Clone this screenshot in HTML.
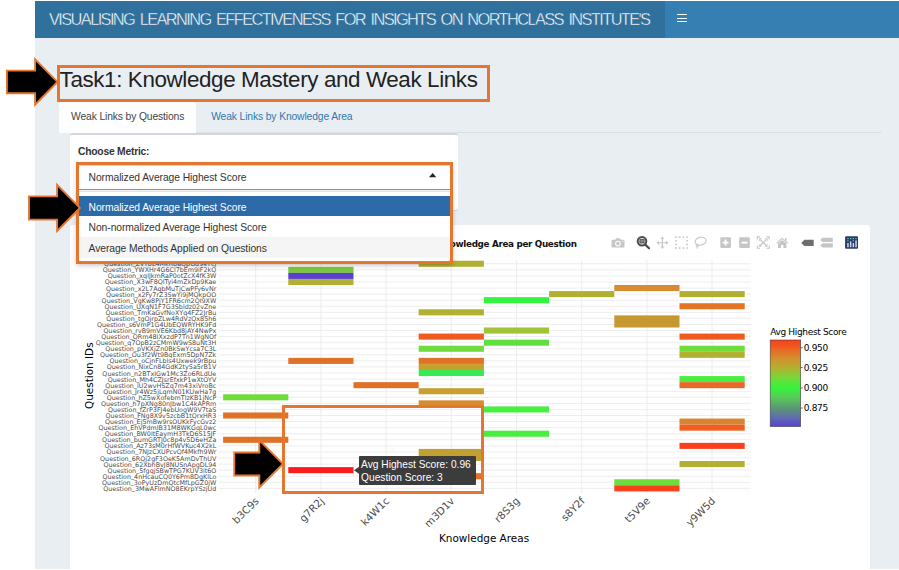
<!DOCTYPE html>
<html lang="en"><head><meta charset="utf-8"><title>Task1: Knowledge Mastery and Weak Links</title>
<style>
html,body{margin:0;padding:0;background:#fff;}
body{width:899px;height:570px;overflow:hidden;position:relative;font-family:"Liberation Sans",sans-serif;color:#333;}
.abs{position:absolute;}
#app{left:35px;top:1px;width:864px;height:567.7px;background:#e9eef3;}
#logo{left:35px;top:1px;width:630px;height:37px;background:#30709c;}
#nav{left:665px;top:1px;width:234px;height:37px;background:#367fb2;}
#logotxt{left:49px;top:0.5px;height:37px;line-height:37px;color:#fff;font-size:16.4px;white-space:nowrap;letter-spacing:-1.61px;word-spacing:2.5px;-webkit-text-stroke:0.4px #30709c}
.hb{left:677px;width:10.2px;height:1.45px;background:#fff;border-radius:1px}
#h1{left:59.6px;top:61.8px;font-size:22.4px;line-height:36px;color:#222;white-space:nowrap;letter-spacing:-0.38px}
.obox{border:3px solid #e5762f;box-sizing:border-box}
#tabline{left:58px;top:132px;width:824px;height:1px;background:#dcdfe3}
#tab1{left:59px;top:102px;width:137.3px;height:30.5px;background:#fff;border-radius:3px 3px 0 0}
.tabt{font-size:10.3px;line-height:14px;white-space:nowrap;letter-spacing:-0.12px}
#box1{left:70px;top:133.4px;width:388.2px;height:76.2px;background:#fff;border-top:2px solid #d2d6de;border-radius:3px;box-sizing:border-box;box-shadow:0 1px 1px rgba(0,0,0,.1)}
#box2{left:70px;top:224.9px;width:800.2px;height:360px;background:#fff;border-radius:3px;box-sizing:border-box;box-shadow:0 1px 1px rgba(0,0,0,.1)}
#lbl{left:78px;top:145.1px;font-size:10.3px;letter-spacing:-0.22px;font-weight:bold;color:#333;white-space:nowrap;line-height:14px}
#sel{left:78px;top:165px;width:373px;height:25.2px;background:#fff;border:1px solid #d2d6de;border-bottom:1.5px solid #5a9fd4;box-sizing:border-box;border-radius:3px 3px 0 0}
#dd{left:78px;top:191.2px;width:373px;height:70.4px;background:#fff;border:1px solid #e2e2e2;box-sizing:border-box;box-shadow:0 1px 4px rgba(0,0,0,.18);border-radius:0 0 3px 3px}
.opt{left:78.5px;width:372px;height:20.5px}
.ot{left:88.6px;font-size:10.3px;letter-spacing:-0.07px;line-height:14px;color:#333;white-space:nowrap}
svg.plot{position:absolute;left:0;top:0}
svg text{font-family:"DejaVu Sans","Liberation Sans",sans-serif}
.yt text{font-size:6.38px;fill:#4d4d4d}
.xt text{font-size:10.35px;fill:#4d4d4d}
.axt{font-size:10.45px;fill:#000}
.ptitle{font-size:8.8px;letter-spacing:-0.33px;font-weight:bold;fill:#111}
.lgt{font-size:9px;letter-spacing:-0.34px;fill:#000}
.lgk{font-size:9px;letter-spacing:-0.31px;fill:#000}
#tip{left:358.8px;top:455.6px;width:117.2px;height:29px;background:#3c3c3c;color:#fff;font-size:10.2px;line-height:12.9px;box-sizing:border-box;padding:3.6px 0 0 2.3px;white-space:nowrap;border-radius:1px}
</style></head><body>
<div id="app" class="abs"></div>
<div id="logo" class="abs"></div><div id="nav" class="abs"></div>
<div id="logotxt" class="abs">VISUALISING LEARNING EFFECTIVENESS FOR INSIGHTS ON NORTHCLASS INSTITUTE'S</div>
<div class="abs hb" style="top:14px"></div><div class="abs hb" style="top:17.5px"></div><div class="abs hb" style="top:21.05px"></div>

<div id="h1" class="abs">Task1: Knowledge Mastery and Weak Links</div>
<div class="abs obox" style="left:57px;top:65px;width:433px;height:36.7px"></div>

<div id="tabline" class="abs"></div>
<div id="tab1" class="abs"></div>
<div class="abs tabt" style="left:71px;top:110.1px;color:#444">Weak Links by Questions</div>
<div class="abs tabt" style="left:211.2px;top:110.1px;color:#3079ad">Weak Links by Knowledge Area</div>

<div id="box1" class="abs"></div>
<div id="box2" class="abs"></div>
<svg class="plot" width="899" height="570" viewBox="0 0 899 570">
<g stroke="#ebebeb" stroke-width="0.9" shape-rendering="auto"><line x1="218.5" x2="751.0" y1="263.77" y2="263.77"/><line x1="218.5" x2="751.0" y1="269.84" y2="269.84"/><line x1="218.5" x2="751.0" y1="275.91" y2="275.91"/><line x1="218.5" x2="751.0" y1="281.98" y2="281.98"/><line x1="218.5" x2="751.0" y1="288.05" y2="288.05"/><line x1="218.5" x2="751.0" y1="294.12" y2="294.12"/><line x1="218.5" x2="751.0" y1="300.19" y2="300.19"/><line x1="218.5" x2="751.0" y1="306.25" y2="306.25"/><line x1="218.5" x2="751.0" y1="312.33" y2="312.33"/><line x1="218.5" x2="751.0" y1="318.40" y2="318.40"/><line x1="218.5" x2="751.0" y1="324.47" y2="324.47"/><line x1="218.5" x2="751.0" y1="330.54" y2="330.54"/><line x1="218.5" x2="751.0" y1="336.61" y2="336.61"/><line x1="218.5" x2="751.0" y1="342.68" y2="342.68"/><line x1="218.5" x2="751.0" y1="348.75" y2="348.75"/><line x1="218.5" x2="751.0" y1="354.82" y2="354.82"/><line x1="218.5" x2="751.0" y1="360.88" y2="360.88"/><line x1="218.5" x2="751.0" y1="366.96" y2="366.96"/><line x1="218.5" x2="751.0" y1="373.03" y2="373.03"/><line x1="218.5" x2="751.0" y1="379.10" y2="379.10"/><line x1="218.5" x2="751.0" y1="385.17" y2="385.17"/><line x1="218.5" x2="751.0" y1="391.24" y2="391.24"/><line x1="218.5" x2="751.0" y1="397.31" y2="397.31"/><line x1="218.5" x2="751.0" y1="403.38" y2="403.38"/><line x1="218.5" x2="751.0" y1="409.45" y2="409.45"/><line x1="218.5" x2="751.0" y1="415.51" y2="415.51"/><line x1="218.5" x2="751.0" y1="421.59" y2="421.59"/><line x1="218.5" x2="751.0" y1="427.66" y2="427.66"/><line x1="218.5" x2="751.0" y1="433.73" y2="433.73"/><line x1="218.5" x2="751.0" y1="439.80" y2="439.80"/><line x1="218.5" x2="751.0" y1="445.87" y2="445.87"/><line x1="218.5" x2="751.0" y1="451.94" y2="451.94"/><line x1="218.5" x2="751.0" y1="458.00" y2="458.00"/><line x1="218.5" x2="751.0" y1="464.08" y2="464.08"/><line x1="218.5" x2="751.0" y1="470.15" y2="470.15"/><line x1="218.5" x2="751.0" y1="476.22" y2="476.22"/><line x1="218.5" x2="751.0" y1="482.29" y2="482.29"/><line x1="218.5" x2="751.0" y1="488.36" y2="488.36"/><line x1="255.70" x2="255.70" y1="259.8" y2="493.0"/><line x1="320.90" x2="320.90" y1="259.8" y2="493.0"/><line x1="386.10" x2="386.10" y1="259.8" y2="493.0"/><line x1="451.30" x2="451.30" y1="259.8" y2="493.0"/><line x1="516.50" x2="516.50" y1="259.8" y2="493.0"/><line x1="581.70" x2="581.70" y1="259.8" y2="493.0"/><line x1="646.90" x2="646.90" y1="259.8" y2="493.0"/><line x1="712.10" x2="712.10" y1="259.8" y2="493.0"/></g>
<g><rect x="223.10" y="394.27" width="65.20" height="6.07" fill="#6fdc3c"/><rect x="223.10" y="412.48" width="65.20" height="6.07" fill="#e07228"/><rect x="223.10" y="436.76" width="65.20" height="6.07" fill="#e07228"/><rect x="288.30" y="266.80" width="65.20" height="6.07" fill="#7cc83c"/><rect x="288.30" y="272.87" width="65.20" height="6.07" fill="#5a3fd0"/><rect x="288.30" y="278.94" width="65.20" height="6.07" fill="#b2b030"/><rect x="288.30" y="357.85" width="65.20" height="6.07" fill="#e07228"/><rect x="288.30" y="467.11" width="65.20" height="6.07" fill="#fd1c1c"/><rect x="353.50" y="382.13" width="65.20" height="6.07" fill="#e07228"/><rect x="418.70" y="260.73" width="65.20" height="6.07" fill="#b2b030"/><rect x="418.70" y="309.29" width="65.20" height="6.07" fill="#b2b030"/><rect x="418.70" y="333.57" width="65.20" height="6.07" fill="#ef5a1f"/><rect x="418.70" y="345.71" width="65.20" height="6.07" fill="#6fdc3c"/><rect x="418.70" y="357.85" width="65.20" height="6.07" fill="#e07228"/><rect x="418.70" y="363.92" width="65.20" height="6.07" fill="#c8a030"/><rect x="418.70" y="369.99" width="65.20" height="6.07" fill="#38e854"/><rect x="418.70" y="388.20" width="65.20" height="6.07" fill="#c8a030"/><rect x="418.70" y="400.34" width="65.20" height="6.07" fill="#d88c30"/><rect x="418.70" y="448.90" width="65.20" height="12.14" fill="#c0a030"/><rect x="418.70" y="473.18" width="65.20" height="6.07" fill="#ee6a25"/><rect x="483.90" y="297.15" width="65.20" height="6.07" fill="#34f33f"/><rect x="483.90" y="327.50" width="65.20" height="6.07" fill="#a0c435"/><rect x="483.90" y="339.64" width="65.20" height="6.07" fill="#60e040"/><rect x="483.90" y="406.41" width="65.20" height="6.07" fill="#48ee40"/><rect x="483.90" y="430.69" width="65.20" height="6.07" fill="#48ee40"/><rect x="549.10" y="291.08" width="65.20" height="6.07" fill="#b2b030"/><rect x="614.30" y="285.01" width="65.20" height="6.07" fill="#d88a30"/><rect x="614.30" y="315.36" width="65.20" height="12.14" fill="#c89830"/><rect x="614.30" y="479.25" width="65.20" height="6.07" fill="#6fdc3c"/><rect x="614.30" y="485.32" width="65.20" height="6.07" fill="#f8401c"/><rect x="679.50" y="291.08" width="65.20" height="6.07" fill="#b2b030"/><rect x="679.50" y="303.22" width="65.20" height="6.07" fill="#e47426"/><rect x="679.50" y="333.57" width="65.20" height="6.07" fill="#ef5a1f"/><rect x="679.50" y="345.71" width="65.20" height="6.07" fill="#6fdc3c"/><rect x="679.50" y="351.78" width="65.20" height="6.07" fill="#b2b030"/><rect x="679.50" y="376.06" width="65.20" height="6.07" fill="#48ee40"/><rect x="679.50" y="382.13" width="65.20" height="6.07" fill="#e8682a"/><rect x="679.50" y="418.55" width="65.20" height="6.07" fill="#d88430"/><rect x="679.50" y="424.62" width="65.20" height="6.07" fill="#ee6022"/><rect x="679.50" y="442.83" width="65.20" height="6.07" fill="#f8401c"/><rect x="679.50" y="461.04" width="65.20" height="6.07" fill="#b2b030"/></g>
<g class="yt" text-anchor="end"><text x="216.3" y="266.27">Question<tspan dy="-1">_</tspan><tspan dy="1">ZvTbL4MkR8aQpGd9eYcj</tspan></text><text x="216.3" y="272.34">Question<tspan dy="-1">_</tspan><tspan dy="1">YWXHr4G6Cl7bEm9iF2kQ</tspan></text><text x="216.3" y="278.41">Question<tspan dy="-1">_</tspan><tspan dy="1">xqlJkmRaP0otZcX4fK3W</tspan></text><text x="216.3" y="284.48">Question<tspan dy="-1">_</tspan><tspan dy="1">X3wF8QlTyi4mZkDp9Kae</tspan></text><text x="216.3" y="290.55">Question<tspan dy="-1">_</tspan><tspan dy="1">x2L7AqbMuTjCwPFy6vNr</tspan></text><text x="216.3" y="296.62">Question<tspan dy="-1">_</tspan><tspan dy="1">x2Fy7rZ3SwYi9jMQkpOO</tspan></text><text x="216.3" y="302.69">Question<tspan dy="-1">_</tspan><tspan dy="1">VgKw8PjY1FR6cm2QI9XW</tspan></text><text x="216.3" y="308.75">Question<tspan dy="-1">_</tspan><tspan dy="1">UXqN1F7G3Sbldz02vZne</tspan></text><text x="216.3" y="314.83">Question<tspan dy="-1">_</tspan><tspan dy="1">TmKaGvfNoXYq4FZ2JrBu</tspan></text><text x="216.3" y="320.90">Question<tspan dy="-1">_</tspan><tspan dy="1">tgOjrpZLw4RdVzQx85h6</tspan></text><text x="216.3" y="326.97">Question<tspan dy="-1">_</tspan><tspan dy="1">s6VmP1G4UbEQWRYHK9Fd</tspan></text><text x="216.3" y="333.04">Question<tspan dy="-1">_</tspan><tspan dy="1">rvB9mVE6Kbd8jAY4NwPx</tspan></text><text x="216.3" y="339.11">Question<tspan dy="-1">_</tspan><tspan dy="1">QRm48IXxzdP7Tn1WgNOf</tspan></text><text x="216.3" y="345.18">Question<tspan dy="-1">_</tspan><tspan dy="1">q7OpB2zCMmW9wS8uNt3H</tspan></text><text x="216.3" y="351.25">Question<tspan dy="-1">_</tspan><tspan dy="1">pVKXjZn0BkSwYcsa7C3L</tspan></text><text x="216.3" y="357.32">Question<tspan dy="-1">_</tspan><tspan dy="1">Ou3f2Wt9BqExm5DpN7Zk</tspan></text><text x="216.3" y="363.38">Question<tspan dy="-1">_</tspan><tspan dy="1">oCjnFLbIs4Uxwek9rBpu</tspan></text><text x="216.3" y="369.46">Question<tspan dy="-1">_</tspan><tspan dy="1">NixCn84GdK2tySa5rB1V</tspan></text><text x="216.3" y="375.53">Question<tspan dy="-1">_</tspan><tspan dy="1">n2BTxIGw1Mc3Zo6RLdUe</tspan></text><text x="216.3" y="381.60">Question<tspan dy="-1">_</tspan><tspan dy="1">Mh4CZJsrEfxkP1wXtOYV</tspan></text><text x="216.3" y="387.67">Question<tspan dy="-1">_</tspan><tspan dy="1">lU2wvHSZq7m43xiVroBc</tspan></text><text x="216.3" y="393.74">Question<tspan dy="-1">_</tspan><tspan dy="1">Jr4Wz5jLqmN01KUwHa7g</tspan></text><text x="216.3" y="399.81">Question<tspan dy="-1">_</tspan><tspan dy="1">hZ5wXofebmTlzKB1jNcP</tspan></text><text x="216.3" y="405.88">Question<tspan dy="-1">_</tspan><tspan dy="1">h7pXNg80nJbw1C4kAPRm</tspan></text><text x="216.3" y="411.95">Question<tspan dy="-1">_</tspan><tspan dy="1">fZrP3FJ4ebUogW9V7taS</tspan></text><text x="216.3" y="418.01">Question<tspan dy="-1">_</tspan><tspan dy="1">FNg8X9v5zcbB1tQrxHR3</tspan></text><text x="216.3" y="424.09">Question<tspan dy="-1">_</tspan><tspan dy="1">Ej5mBw9rsOUKkFycGvz2</tspan></text><text x="216.3" y="430.16">Question<tspan dy="-1">_</tspan><tspan dy="1">EhVPdmlB31M8WKGqL0wc</tspan></text><text x="216.3" y="436.23">Question<tspan dy="-1">_</tspan><tspan dy="1">BW0ItEaymH3TkD6S15JF</tspan></text><text x="216.3" y="442.30">Question<tspan dy="-1">_</tspan><tspan dy="1">bumGRTJ0c8p4v5D6eHZa</tspan></text><text x="216.3" y="448.37">Question<tspan dy="-1">_</tspan><tspan dy="1">Az73sM0rHfWVKuc4X2kL</tspan></text><text x="216.3" y="454.44">Question<tspan dy="-1">_</tspan><tspan dy="1">7NJzCXUPcvQf4Mkfh9Wr</tspan></text><text x="216.3" y="460.50">Question<tspan dy="-1">_</tspan><tspan dy="1">6RQj2gF3OeK5AmDvThUV</tspan></text><text x="216.3" y="466.58">Question<tspan dy="-1">_</tspan><tspan dy="1">62XbhBvJ8NUSnApgDL94</tspan></text><text x="216.3" y="472.65">Question<tspan dy="-1">_</tspan><tspan dy="1">5fgqjSBwTPG7KUV3it6O</tspan></text><text x="216.3" y="478.72">Question<tspan dy="-1">_</tspan><tspan dy="1">4nHcauCQ0Y6Pm8DgKlLo</tspan></text><text x="216.3" y="484.79">Question<tspan dy="-1">_</tspan><tspan dy="1">3oPyUzDmQtcMfLpGZ0jW</tspan></text><text x="216.3" y="490.86">Question<tspan dy="-1">_</tspan><tspan dy="1">3MwAFlmNO8EKrpYSzjUd</tspan></text></g>
<g class="xt"><text transform="translate(259.60,501.6) rotate(-45)" text-anchor="end">b3C9s</text><text transform="translate(324.80,501.6) rotate(-45)" text-anchor="end">g7R2j</text><text transform="translate(390.00,501.6) rotate(-45)" text-anchor="end">k4W1c</text><text transform="translate(455.20,501.6) rotate(-45)" text-anchor="end">m3D1v</text><text transform="translate(520.40,501.6) rotate(-45)" text-anchor="end">r8S3g</text><text transform="translate(585.60,501.6) rotate(-45)" text-anchor="end">s8Y2f</text><text transform="translate(650.80,501.6) rotate(-45)" text-anchor="end">t5V9e</text><text transform="translate(716.00,501.6) rotate(-45)" text-anchor="end">y9W5d</text></g>
<text class="axt" x="484" y="542.3" text-anchor="middle">Knowledge Areas</text>
<text class="axt" transform="translate(92.8,375.7) rotate(-90)" text-anchor="middle">Question IDs</text>
<text class="ptitle" x="576.6" y="246.5" text-anchor="end">Average Highest Score by Knowledge Area per Question</text>
<defs><linearGradient id="cb" x1="0" y1="0" x2="0" y2="1">
<stop offset="0" stop-color="#f8401c"/><stop offset="0.09" stop-color="#ee5f22"/><stop offset="0.2" stop-color="#d88a2c"/>
<stop offset="0.32" stop-color="#b4b030"/><stop offset="0.44" stop-color="#74da3a"/><stop offset="0.555" stop-color="#33f53c"/>
<stop offset="0.66" stop-color="#58cc58"/><stop offset="0.78" stop-color="#5a9a70"/><stop offset="0.9" stop-color="#606cb0"/><stop offset="1" stop-color="#5b3fd3"/>
</linearGradient></defs>
<rect x="770.2" y="340" width="30.5" height="86.5" fill="url(#cb)" stroke="#444" stroke-width="0.6"/>
<text class="lgt" x="770.2" y="334.6">Avg Highest Score</text>
<line x1="800.7" x2="802.7" y1="347.8" y2="347.8" stroke="#444" stroke-width="0.8"/>
<text class="lgk" x="803.7" y="351.2">0.950</text>
<line x1="800.7" x2="802.7" y1="367.6" y2="367.6" stroke="#444" stroke-width="0.8"/>
<text class="lgk" x="803.7" y="371.0">0.925</text>
<line x1="800.7" x2="802.7" y1="388" y2="388" stroke="#444" stroke-width="0.8"/>
<text class="lgk" x="803.7" y="391.4">0.900</text>
<line x1="800.7" x2="802.7" y1="408" y2="408" stroke="#444" stroke-width="0.8"/>
<text class="lgk" x="803.7" y="411.4">0.875</text>
<g class="modebar"><g fill="#c6c6c6"><rect x="611.5" y="239.8" width="13" height="7.8" rx="1.3"/><path d="M615.2 240 L616.2 238.3 H619.8 L620.8 240 Z"/><circle cx="618" cy="243.6" r="2.9" fill="#fff"/><circle cx="618" cy="243.6" r="1.8"/><rect x="622" y="240.8" width="1.4" height="1" fill="#fff"/></g><g><circle cx="642" cy="241.2" r="4.3" fill="#fff" stroke="#4a4a4a" stroke-width="2"/><rect x="639.9" y="239.3" width="4.2" height="3.7" fill="#8a8a8a" stroke="#4a4a4a" stroke-width="0.9"/><path d="M645 244.4 L649 248.2" stroke="#4a4a4a" stroke-width="2.2" stroke-linecap="round"/></g><g stroke="#c6c6c6" stroke-width="1.2" fill="#c6c6c6"><path d="M662.4 238.5 V247 M658.2 242.75 H666.8" fill="none"/><path d="M662.4 236.6 L664.3 239.1 H660.5 Z M662.4 248.9 L664.3 246.4 H660.5 Z M656.4 242.75 L658.9 240.85 V244.65 Z M668.5 242.75 L666 240.85 V244.65 Z" stroke="none"/></g><g fill="#c6c6c6"><rect x="675.20" y="236.40" width="1.6" height="1.6"/><rect x="675.20" y="240.00" width="1.6" height="1.6"/><rect x="675.20" y="243.60" width="1.6" height="1.6"/><rect x="675.20" y="247.20" width="1.6" height="1.6"/><rect x="678.90" y="236.40" width="1.6" height="1.6"/><rect x="678.90" y="247.20" width="1.6" height="1.6"/><rect x="682.60" y="236.40" width="1.6" height="1.6"/><rect x="682.60" y="247.20" width="1.6" height="1.6"/><rect x="686.30" y="236.40" width="1.6" height="1.6"/><rect x="686.30" y="240.00" width="1.6" height="1.6"/><rect x="686.30" y="243.60" width="1.6" height="1.6"/><rect x="686.30" y="247.20" width="1.6" height="1.6"/></g><g fill="none" stroke="#c6c6c6" stroke-width="1.1"><ellipse cx="700.6" cy="241.2" rx="5.6" ry="3.9" transform="rotate(-12 700.6 241.2)"/><path d="M697.6 244.2 C695.6 244.4 695.8 246.6 697.4 246.4 C698.6 246.2 698.4 244.8 697.6 244.6 M697.4 246.4 L697 248.6"/></g><g><rect x="720.3" y="237.3" width="10.6" height="10.6" rx="0.8" fill="#c6c6c6"/><path d="M725.6 239.6 V245.6 M722.6 242.6 H728.6" stroke="#fff" stroke-width="1.8"/></g><g><rect x="739.2" y="237.3" width="10.6" height="10.6" rx="0.8" fill="#c6c6c6"/><path d="M741.5 242.6 H747.5" stroke="#fff" stroke-width="1.8"/></g><g fill="none" stroke="#c6c6c6" stroke-width="1.1"><path d="M757.3 239.6 V236.9 H760 M766.5 236.9 H769.2 V239.6 M769.2 245.6 V248.3 H766.5 M760 248.3 H757.3 V245.6"/><path d="M760 239.4 L766.5 245.8 M766.5 239.4 L760 245.8" stroke-width="1.3"/><path d="M759.3 241 V238.7 H761.6 M764.9 238.7 H767.2 V241 M767.2 244.2 V246.5 H764.9 M761.6 246.5 H759.3 V244.2" stroke-width="0.9"/></g><g fill="#c6c6c6"><path d="M782.2 237.4 L788.2 242.9 L787.4 243.8 L782.2 239.1 L777 243.8 L776.2 242.9 Z"/><path d="M778 243.6 L782.2 239.9 L786.4 243.6 V248 H783.4 V245 H781 V248 H778 Z"/><rect x="785" y="238" width="1.5" height="2.6"/></g><path d="M801.2 242.9 L804.4 239.7 H813.7 V246.1 H804.4 Z" fill="#6e6e6e"/><g fill="#c6c6c6"><path d="M820.2 240 L822.5 237.8 H832.8 V242.1 H822.5 Z"/><path d="M820.2 245.5 L822.5 243.3 H832.8 V247.6 H822.5 Z"/></g><g><rect x="845.1" y="236.2" width="12.9" height="12.5" rx="1" fill="#2b3a67"/><g fill="#c9d3ee"><rect x="847.2" y="243" width="1.5" height="4.2"/><rect x="849.9" y="241.4" width="1.5" height="5.8"/><rect x="852.6" y="243" width="1.5" height="4.2"/><rect x="855.3" y="240.4" width="1.5" height="6.8"/></g><g fill="#5fb8b4"><rect x="847.2" y="238" width="1.4" height="1.2"/><rect x="849.9" y="238" width="1.4" height="1.2"/><rect x="852.6" y="238" width="1.4" height="1.2"/><rect x="855.3" y="238" width="1.4" height="1.2"/><rect x="847.2" y="240.2" width="1.4" height="1.1"/><rect x="852.6" y="240.2" width="1.4" height="1.1"/></g></g></g>
</svg>
<!--MODEBAR-->
<!--ANNOT_RECT-->
<div id="tip" class="abs">Avg Highest Score: 0.96<br>Question Score: 3</div>
<svg class="abs" style="left:352px;top:464px" width="8" height="12" viewBox="0 0 8 12"><path d="M7.5 2.4 L2 6.3 L7.5 10.2 Z" fill="#3c3c3c"/></svg>
<div class="abs obox" style="left:281.5px;top:404.7px;width:202.6px;height:89.2px"></div>

<div id="lbl" class="abs">Choose Metric:</div>
<div id="sel" class="abs"></div>
<div class="abs ot" style="top:170.7px">Normalized Average Highest Score</div>
<svg class="abs" style="left:428.8px;top:172.9px" width="8" height="5" viewBox="0 0 8 5"><path d="M0 4.3 L3.65 0 L7.3 4.3 Z" fill="#222"/></svg>
<div id="dd" class="abs"></div>
<div class="abs opt" style="top:196.2px;background:#2d6aa8;height:20.1px"></div>
<div class="abs opt" style="top:237px;background:#f5f5f5;height:20.8px"></div>
<div class="abs ot" style="top:200.7px;color:#fff">Normalized Average Highest Score</div>
<div class="abs ot" style="top:221.1px">Non-normalized Average Highest Score</div>
<div class="abs ot" style="top:241.8px">Average Methods Applied on Questions</div>
<div class="abs obox" style="left:76px;top:162px;width:377px;height:102px;border-width:3px;box-shadow:0 2px 5px rgba(0,0,0,.16)"></div>

<!--ARROWS-->
<svg class="abs" style="left:0;top:0;pointer-events:none" width="899" height="570" viewBox="0 0 899 570">
<g fill="#000" stroke="#e5762f" stroke-width="1.9" stroke-linejoin="miter" stroke-miterlimit="10">
<path d="M6.9 70.6 H35.1 V59.3 L57.4 81.9 L35.1 104.6 V93.2 H6.9 Z"/>
<path d="M29 196.4 H57.1 V184.9 L79.9 207.9 L57.1 230.9 V219.6 H29 Z"/>
<path d="M234.3 452.5 H259.3 V440.3 L282.9 463.9 L259.3 487.5 V475.5 H234.3 Z"/>
</g></svg>
</body></html>
